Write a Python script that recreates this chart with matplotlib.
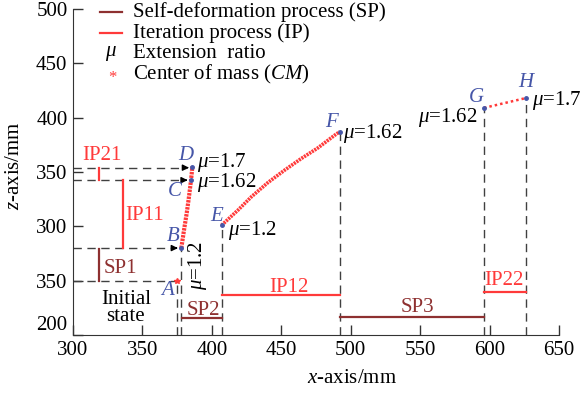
import numpy as np
import matplotlib
matplotlib.use("Agg")
import matplotlib.pyplot as plt

plt.rcParams['font.family'] = ['Liberation Serif', 'DejaVu Serif']
plt.rcParams['mathtext.fontset'] = 'custom'
plt.rcParams['mathtext.rm'] = 'Liberation Serif'
plt.rcParams['mathtext.it'] = 'Liberation Serif:italic'

# key points of the centre-of-mass path (x, z) in mm
pt_A = (375, 250)
pt_B = (378, 280)
pt_C = (385, 342.5)
pt_D = (386, 355)
pt_E = (407, 301)
pt_F = (492, 387)
pt_G = (596, 409)
pt_H = (626, 418)

# centre-of-mass traces during the iteration stages
bd_x = [378, 380, 382, 383.5, 385, 386]
bd_z = [280, 297, 313, 327, 342.5, 355]
ef_x = [407, 418.8, 428.4, 440.4, 452.4, 464.4, 476.4, 488.4, 492]
ef_z = [301, 314.9, 327.1, 340.3, 351.7, 362.4, 372.2, 383.8, 387]
gh_x = [596, 626]
gh_z = [409, 418]

# process spans: (x, z0, z1) for vertical, (x0, x1, z) for horizontal
sp1 = (318.7, 250, 279)
ip11 = (335.8, 280, 342.5)
ip21 = (318.7, 342.5, 354)
sp2 = (378.7, 407, 215.3)
ip12 = (407, 492, 236.8)
sp3 = (492, 596, 216.3)
ip22 = (596, 626, 239.2)

y_ticks = [200, 250, 300, 350, 400, 450, 500]
y_tick_labels = ['200', '350', '300', '350', '400', '450', '500']
x_ticks = [300, 350, 400, 450, 500, 550, 600, 650]

legend_labels = ['Self-deformation process (SP)', 'Iteration process (IP)',
                 'Extension  ratio', r'Center of mass ($CM$)']

SP_COL = '#8e3030'
IP_COL = '#ff3a3a'
PT_COL = '#4656a8'
DASH_COL = '#404040'
FS = 15

fig = plt.figure(figsize=(5.85, 3.94), dpi=100)
ax = fig.add_axes([73 / 585, 1 - 335 / 394, 486 / 585, 326 / 394])
ax.set_xlim(300, 650)
ax.set_ylim(200, 500)

dash = dict(color=DASH_COL, lw=1.0, dashes=(6, 4))

# vertical guides down to the x axis
for p in [pt_A, pt_B, pt_E, pt_F, pt_G, pt_H]:
    ax.plot([p[0], p[0]], [200, p[1]], **dash)

# horizontal guides from the z axis
ax.plot([300, pt_A[0]], [pt_A[1], pt_A[1]], **dash)
for p, z in [(pt_B, 280), (pt_C, 342.5), (pt_D, 354)]:
    ax.plot([300, p[0] - 4.5], [z, z], **dash)
    ax.annotate('', xy=(p[0] - 2.5, z), xytext=(p[0] - 6, z),
                arrowprops=dict(arrowstyle='-|>', color='black', lw=1.0,
                                mutation_scale=9))

# process segments
ax.plot([sp1[0], sp1[0]], [sp1[1], sp1[2]], color=SP_COL, lw=1.6)
ax.plot([ip11[0], ip11[0]], [ip11[1], ip11[2]], color=IP_COL, lw=1.6)
ax.plot([ip21[0], ip21[0]], [ip21[1], ip21[2]], color=IP_COL, lw=1.6)
ax.plot([sp2[0], sp2[1]], [sp2[2], sp2[2]], color=SP_COL, lw=1.6)
ax.plot([ip12[0], ip12[1]], [ip12[2], ip12[2]], color=IP_COL, lw=1.6)
ax.plot([sp3[0], sp3[1]], [sp3[2], sp3[2]], color=SP_COL, lw=1.6)
ax.plot([ip22[0], ip22[1]], [ip22[2], ip22[2]], color=IP_COL, lw=1.6)

# centre of mass traces
ax.plot(bd_x, bd_z, color=IP_COL, lw=3.0, dashes=(0.6, 0.25))
ax.plot(ef_x, ef_z, color=IP_COL, lw=2.6, dashes=(0.6, 0.25))
ax.plot(gh_x, gh_z, color=IP_COL, lw=1.8, dashes=(1.0, 1.2))
ax.plot(*pt_A, marker='*', color=IP_COL, ms=4, ls='none')
for p in [pt_B, pt_C, pt_D, pt_E, pt_F, pt_G, pt_H]:
    ax.plot(*p, marker='o', color=PT_COL, ms=2.5, ls='none')

# point letters
letters = [('A', 368.4, 241.4), ('B', 372, 290.4), ('C', 373.4, 331.7),
           ('D', 381.4, 365.4), ('E', 403.4, 308.7), ('F', 486.2, 396),
           ('G', 590.6, 419), ('H', 626.1, 432.8)]
for s, x, z in letters:
    ax.text(x, z, s, color=PT_COL, style='italic', fontsize=FS,
            ha='center', va='center')

# extension ratios
mu = r'$\mu$'
ax.text(389, 359, mu + '=1.7', fontsize=FS, va='center', ha='left')
ax.text(389, 340, mu + '=1.62', fontsize=FS, va='center', ha='left')
ax.text(390, 264.3, mu + '=1.2', fontsize=FS, va='center', ha='center',
        rotation=90)
ax.text(411.5, 296.5, mu + '=1.2', fontsize=FS, va='center', ha='left')
ax.text(494.6, 385.3, mu + '=1.62', fontsize=FS, va='center', ha='left')
ax.text(591.6, 400.6, mu + '=1.62', fontsize=FS, va='center', ha='right')
ax.text(630.2, 416, mu + '=1.7', fontsize=FS, va='center', ha='left')

# process labels
ax.text(320.9, 365.4, 'IP21', color=IP_COL, fontsize=FS, ha='center', va='center')
ax.text(351.8, 310.3, 'IP11', color=IP_COL, fontsize=FS, ha='center', va='center')
ax.text(334.2, 261.3, 'SP1', color=SP_COL, fontsize=FS, ha='center', va='center')
ax.text(393.6, 222.3, 'SP2', color=SP_COL, fontsize=FS, ha='center', va='center')
ax.text(455.5, 244, 'IP12', color=IP_COL, fontsize=FS, ha='center', va='center')
ax.text(547.7, 225.4, 'SP3', color=SP_COL, fontsize=FS, ha='center', va='center')
ax.text(610.3, 250, 'IP22', color=IP_COL, fontsize=FS, ha='center', va='center')
ax.text(338, 224.8, 'Initial\nstate', fontsize=FS, ha='center', va='center',
        linespacing=0.85)

# legend drawn by hand in axes fraction
rows = [0.9893, 0.9264, 0.8635, 0.8006]
tr = ax.transAxes
ax.plot([0.0556, 0.1008], [rows[0]] * 2, color=SP_COL, lw=1.6,
        transform=tr, clip_on=False)
ax.plot([0.0556, 0.1008], [rows[1]] * 2, color=IP_COL, lw=1.6,
        transform=tr, clip_on=False)
ax.text(0.0776, rows[2], mu, fontsize=FS, ha='center', va='center',
        transform=tr)
ax.text(0.0817, rows[3] - 0.012, '*', color=IP_COL, fontsize=FS - 3,
        ha='center', va='center', transform=tr)
for r, lab in zip(rows, legend_labels):
    ax.text(0.1235, r, lab, fontsize=FS, ha='left', va='center', transform=tr)

# axes styling
for s in ['top', 'right']:
    ax.spines[s].set_visible(False)
for s in ['left', 'bottom']:
    ax.spines[s].set_color('#333333')
ax.set_xticks(x_ticks)
ax.set_yticks(y_ticks)
ax.set_yticklabels(y_tick_labels)
ax.tick_params(direction='in', length=7, width=1, color='#333333',
               labelsize=FS, pad=4)
# lift the lowest z label clear of the x labels
ax.get_yticklabels()[0].set_va('bottom')
ax.set_xlabel(r'$x$-axis/mm', fontsize=FS)
ax.xaxis.set_label_coords(0.574, -0.105)
ax.set_ylabel(r'$z$-axis/mm', fontsize=FS)
ax.yaxis.set_label_coords(-0.1, 0.52)

fig.savefig('out.png', dpi=100)
